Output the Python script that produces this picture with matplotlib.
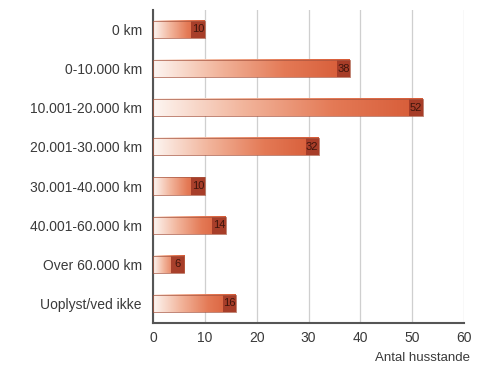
import numpy as np
import matplotlib.pyplot as plt
from matplotlib.colors import LinearSegmentedColormap
from matplotlib.patches import Rectangle

plt.rcParams['font.family'] = ['Liberation Sans', 'DejaVu Sans']

kategorier = ['0 km', '0-10.000 km', '10.001-20.000 km', '20.001-30.000 km',
              '30.001-40.000 km', '40.001-60.000 km', 'Over 60.000 km', 'Uoplyst/ved ikke']
husstande = [10, 38, 52, 32, 10, 14, 6, 16]

# hvid -> orange -> roed gradient til soejlerne
cmap = LinearSegmentedColormap.from_list(
    'bar', ['#fdf6f2', '#f2b59c', '#e47a56', '#d65a36'])
gradient = np.linspace(0, 1, 256).reshape(1, -1)

fig = plt.figure(figsize=(4.83, 3.65), dpi=100)
ax = fig.add_axes([0.317, 0.115, 0.644, 0.858])

hoejde = 0.44
for i, (kat, v) in enumerate(zip(kategorier, husstande)):
    y0 = i - hoejde / 2
    ax.imshow(gradient, cmap=cmap, aspect='auto', interpolation='bilinear',
              extent=(0, v, y0, y0 + hoejde), zorder=2)
    # mork boks i enden med vaerdien
    boks = 2.6
    ax.add_patch(Rectangle((v - boks, y0), boks, hoejde, facecolor='#a23a27',
                           edgecolor='none', alpha=0.9, zorder=3))
    ax.add_patch(Rectangle((0, y0), v, hoejde, facecolor='none',
                           edgecolor='#a8553f', linewidth=0.5, zorder=4))
    ax.text(v - boks / 2, i, str(v), ha='center', va='center', fontsize=8,
            color='#3f150c', zorder=5)

ax.set_xlim(0, 60)
ax.set_ylim(len(kategorier) - 0.5, -0.5)
ax.set_yticks(range(len(kategorier)))
ax.set_yticklabels(kategorier, fontsize=10, color='#3a3a3a')
ax.set_xticks(range(0, 61, 10))
ax.tick_params(axis='x', labelsize=10, colors='#3a3a3a', length=0, pad=6)
ax.tick_params(axis='y', length=0, pad=8)

ax.grid(axis='x', color='#cfcfcf', linewidth=0.9, zorder=0)
ax.set_axisbelow(True)
for s in ['top', 'right']:
    ax.spines[s].set_visible(False)
for s in ['left', 'bottom']:
    ax.spines[s].set_color('#555555')
    ax.spines[s].set_linewidth(1.5)

fig.text(0.973, 0.02, 'Antal husstande', ha='right', va='center',
         fontsize=9.5, color='#3a3a3a')

fig.savefig('out.png', dpi=100)
